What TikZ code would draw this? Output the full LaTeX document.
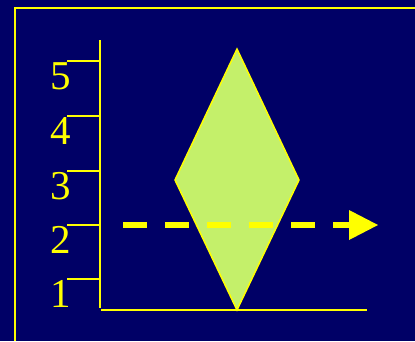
\documentclass[tikz,border=0pt]{standalone}
\usepackage{fontspec}
\setmainfont{Liberation Serif}
\begin{document}
\begin{tikzpicture}[x=1pt,y=-1pt,
  axisline/.style={draw=ylw,line width=2pt},
  ticklabel/.style={text=ylw,font=\fontsize{41}{41}\selectfont,anchor=base,inner sep=0pt},
  dashline/.style={draw=ylw,line width=6pt,dash pattern=on 24pt off 18pt}]
\definecolor{navy}{RGB}{0,0,102}
\definecolor{ylw}{RGB}{255,255,0}
\definecolor{lgreen}{RGB}{196,240,106}
\fill[navy] (0,0) rectangle (415,341);
\useasboundingbox (0,0) rectangle (415,341);
% frame
\coordinate (fbl) at (15,341);
\coordinate (ftl) at (15,8);
\coordinate (ftr) at (415,8);
\draw[axisline] (fbl) -- (ftl) -- (ftr);
% diamond
\coordinate (dt) at (237,49);
\coordinate (dl) at (175,180);
\coordinate (dr) at (299,180);
\coordinate (db) at (237,310);
\filldraw[fill=lgreen,draw=ylw,line width=1.5pt,line join=miter] (dt) -- (dr) -- (db) -- (dl) -- cycle;
% axes
\coordinate (ytop) at (100,40);
\coordinate (ybot) at (100,308);
\coordinate (xl) at (101,310);
\coordinate (xr) at (367,310);
\draw[axisline] (ytop) -- (ybot);
\draw[axisline] (xl) -- (xr);
% ticks and labels
\foreach \v/\yy in {5/61,4/116,3/171,2/225,1/279}{
  \coordinate (t\v a) at (67,\yy);
  \coordinate (t\v b) at (100,\yy);
  \draw[axisline] (t\v a) -- (t\v b);
  \node[ticklabel] (lab\v) at (61,\yy+28) {\v};
}
% dashed arrow
\coordinate (as) at (123,225);
\coordinate (ae) at (349,225);
\coordinate (tipu) at (349,210);
\coordinate (tipd) at (349,240);
\coordinate (tip) at (378,225);
\draw[dashline] (as) -- (ae);
\fill[ylw] (tipu) -- (tip) -- (tipd) -- cycle;
\end{tikzpicture}
\end{document}
